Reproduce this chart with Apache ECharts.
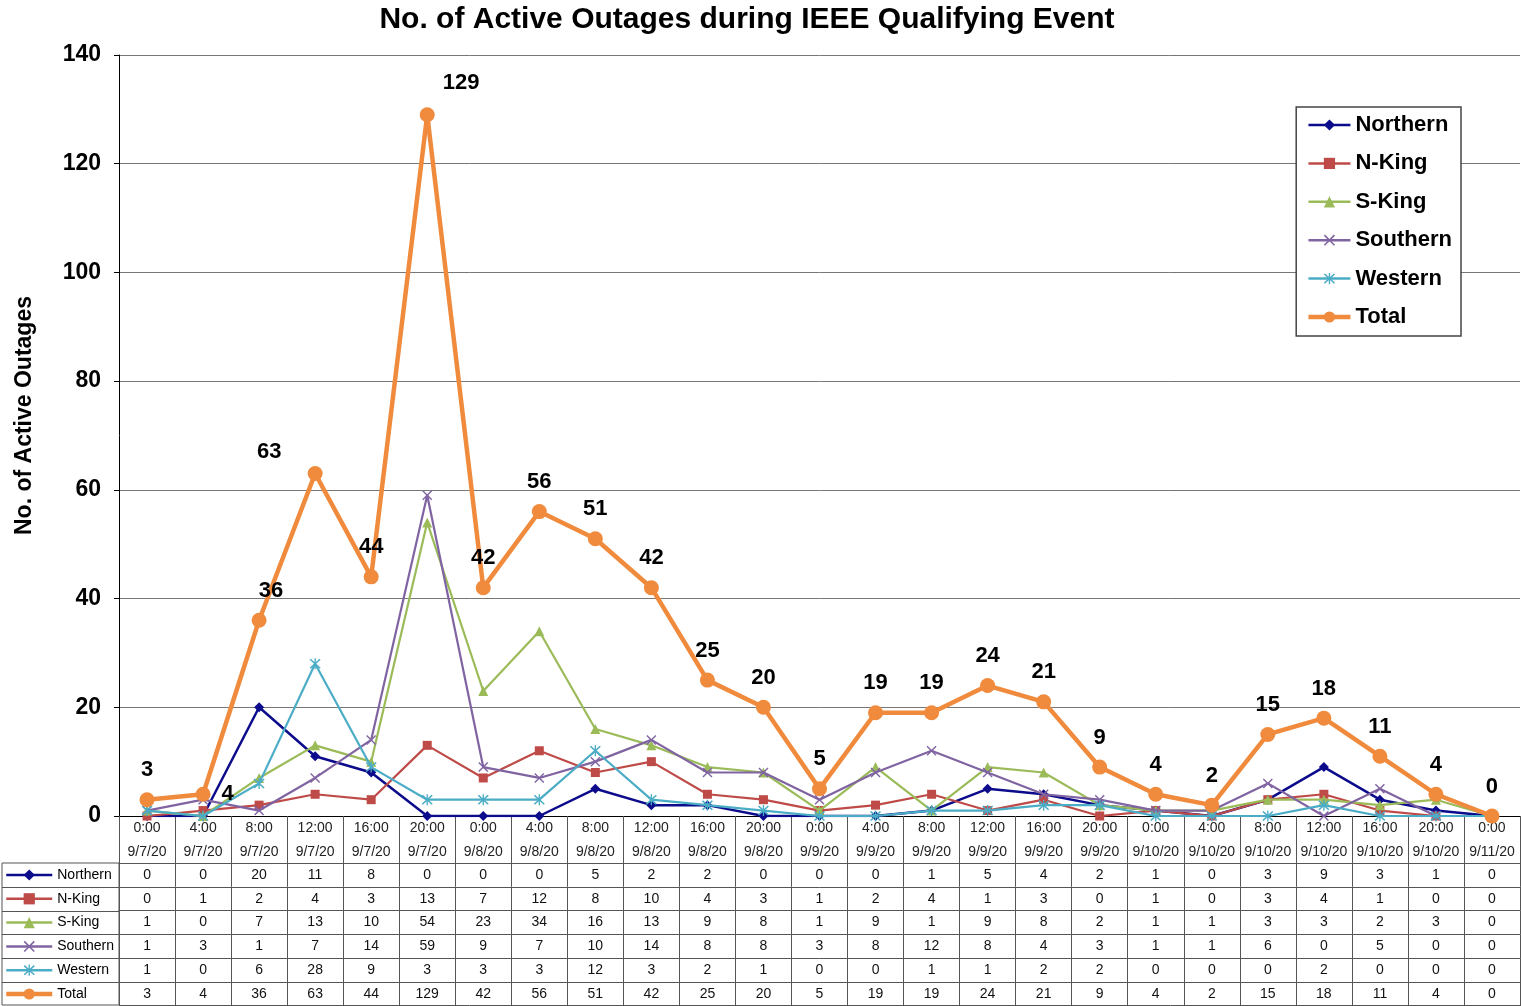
<!DOCTYPE html>
<html><head><meta charset="utf-8">
<script src="https://cdn.jsdelivr.net/npm/echarts@6/dist/echarts.min.js"></script>
<style>html,body{margin:0;padding:0;background:#fff}#c{width:1521px;height:1006px}</style>
</head><body><div id="c"></div>
<script>
const times = ['0:00','4:00','8:00','12:00','16:00','20:00','0:00','4:00','8:00','12:00','16:00','20:00','0:00','4:00','8:00','12:00','16:00','20:00','0:00','4:00','8:00','12:00','16:00','20:00','0:00'];
const dates = ['9/7/20','9/7/20','9/7/20','9/7/20','9/7/20','9/7/20','9/8/20','9/8/20','9/8/20','9/8/20','9/8/20','9/8/20','9/9/20','9/9/20','9/9/20','9/9/20','9/9/20','9/9/20','9/10/20','9/10/20','9/10/20','9/10/20','9/10/20','9/10/20','9/11/20'];
const northern = [0,0,20,11,8,0,0,0,5,2,2,0,0,0,1,5,4,2,1,0,3,9,3,1,0];
const nKing    = [0,1,2,4,3,13,7,12,8,10,4,3,1,2,4,1,3,0,1,0,3,4,1,0,0];
const sKing    = [1,0,7,13,10,54,23,34,16,13,9,8,1,9,1,9,8,2,1,1,3,3,2,3,0];
const southern = [1,3,1,7,14,59,9,7,10,14,8,8,3,8,12,8,4,3,1,1,6,0,5,0,0];
const western  = [1,0,6,28,9,3,3,3,12,3,2,1,0,0,1,1,2,2,0,0,0,2,0,0,0];
const total    = [3,4,36,63,44,129,42,56,51,42,25,20,5,19,19,24,21,9,4,2,15,18,11,4,0];
const seriesNames = ['Northern','N-King','S-King','Southern','Western','Total'];
const yTicks = {min:0, max:140, interval:20};
const chartTitle = 'No. of Active Outages during IEEE Qualifying Event';
const yTitle = 'No. of Active Outages';

const rows = [northern, nKing, sKing, southern, western, total];
const categories = times.map((t,i)=>t+' '+dates[i]);

const FONT = 'Liberation Sans, Arial, sans-serif';
const colors = ['#0B0B8C','#BE4B48','#9BBB59','#8064A2','#4BACC6','#F08A3C'];
const xPath = 'path://M0,1L1,0L5,4L9,0L10,1L6,5L10,9L9,10L5,6L1,10L0,9L4,5Z';
const starPath = 'path://M0,1L1,0L5,4L9,0L10,1L6,5L10,9L9,10L5,6L1,10L0,9L4,5Z M4.4,-0.5L5.6,-0.5L5.6,10.5L4.4,10.5Z';
const symbols = ['diamond','rect','triangle',xPath,starPath,'circle'];
const symbolSizes = [10,9,10,10,11,15];
const lineWidths = [2.5,2.2,2.2,2.2,2.2,4.5];

const HEADER_H = 47, ROW_H = 23.8, AXIS_Y = 816, TABLE_TOP = AXIS_Y + HEADER_H;

// label tweaks for total series (style only)
const tweaks = {
  1: {position:'right'},
  2: {offset:[12,0]},
  3: {offset:[-46,8]},
  5: {offset:[34,-2]}
};

const series = rows.map((d, k) => {
  const isTotal = k === 5;
  return {
    name: seriesNames[k],
    type: 'line',
    data: isTotal ? d.map((v,i)=> tweaks[i] ? {value:v, label:tweaks[i]} : v) : d,
    symbol: symbols[k],
    symbolSize: symbolSizes[k],
    showSymbol: true,
    lineStyle: {color: colors[k], width: lineWidths[k]},
    itemStyle: {color: colors[k]},
    label: isTotal ? {show:true, position:'top', distance:11, fontSize:22, fontWeight:'bold', color:'#000', fontFamily:FONT} : {show:false},
    emphasis: {disabled:true},
    z: 2 + k
  };
});

const xAxes = [{
  type:'category', data:categories, gridIndex:0, position:'bottom', boundaryGap:true,
  axisLine:{show:true, lineStyle:{color:'#000', width:1}},
  axisTick:{show:true, interval:0, length:HEADER_H, lineStyle:{color:'#555'}},
  axisLabel:{interval:0, margin:0, lineHeight:24, fontSize:14, color:'#222', fontFamily:FONT,
    formatter:(v,i)=> times[i] + '\n' + dates[i]},
  splitLine:{show:false}
}];
rows.forEach((d, r) => {
  xAxes.push({
    type:'category', data:categories, gridIndex:0, position:'bottom', boundaryGap:true,
    offset: HEADER_H + r*ROW_H,
    axisLine:{show:true, onZero:false, lineStyle:{color:'#555', width:1}},
    axisTick:{show:true, interval:0, length:ROW_H, lineStyle:{color:'#555'}},
    axisLabel:{interval:0, margin:0, lineHeight:ROW_H, fontSize:14, color:'#111', fontFamily:FONT,
      formatter:(v,i)=> String(d[i])},
    splitLine:{show:false}
  });
});

const graphics = [{type:'rect', shape:{x:2, y:TABLE_TOP, width:117, height:1006-TABLE_TOP-1}, style:{fill:'none', stroke:'#555', lineWidth:1}},
  {type:'line', shape:{x1:119, y1:1005.5, x2:1521, y2:1005.5}, style:{stroke:'#555', lineWidth:1}}];
for (let k=1; k<6; k++) {
  const y = Math.round(TABLE_TOP + k*ROW_H) + 0.5;
  graphics.push({type:'line', shape:{x1:2, y1:y, x2:119, y2:y}, style:{stroke:'#555', lineWidth:1}});
}

const legendData = (widthScale) => seriesNames.map((n,k)=>({name:n, lineStyle:{width: k===5 ? 4.5 : 2.5*widthScale}}));

const option = {
  animation:false,
  backgroundColor:'#fff',
  textStyle:{fontFamily:FONT},
  color: colors,
  title:{text:chartTitle, left:742, textAlign:'center', top:0,
    textStyle:{fontSize:30, fontWeight:'bold', color:'#000', fontFamily:FONT}},
  grid:{left:119, right:1, top:55, bottom:1006-AXIS_Y, containLabel:false},
  legend:[{
    data:legendData(1), orient:'vertical', right:60, top:107, padding:[7,9,8,10],
    itemGap:16.4, itemWidth:42, itemHeight:14, selectedMode:false,
    textStyle:{fontSize:22, fontWeight:'bold', color:'#000', fontFamily:FONT},
    borderColor:'#444', borderWidth:1.5, backgroundColor:'#fff'
  },{
    data:legendData(1), orient:'vertical', left:4, top:TABLE_TOP+5, padding:0,
    itemGap:ROW_H-14, itemWidth:46, itemHeight:14, selectedMode:false,
    textStyle:{fontSize:14, color:'#000', fontFamily:FONT}
  }],
  xAxis: xAxes,
  yAxis:{type:'value', min:yTicks.min, max:yTicks.max, interval:yTicks.interval,
    axisLine:{show:true, lineStyle:{color:'#000'}},
    axisTick:{show:true, length:5, lineStyle:{color:'#000'}},
    axisLabel:{fontSize:23, fontWeight:'bold', color:'#000', margin:18, fontFamily:FONT},
    splitLine:{show:true, lineStyle:{color:'#777', width:1}},
    name:yTitle, nameLocation:'middle', nameGap:83, nameRotate:90,
    nameTextStyle:{fontSize:23, fontWeight:'bold', color:'#000', fontFamily:FONT, padding:[0,0,0,40]}
  },
  graphic: graphics,
  series: series
};
const chart = echarts.init(document.getElementById('c'), null, {renderer:'canvas'});
chart.setOption(option);
</script>
</body></html>
